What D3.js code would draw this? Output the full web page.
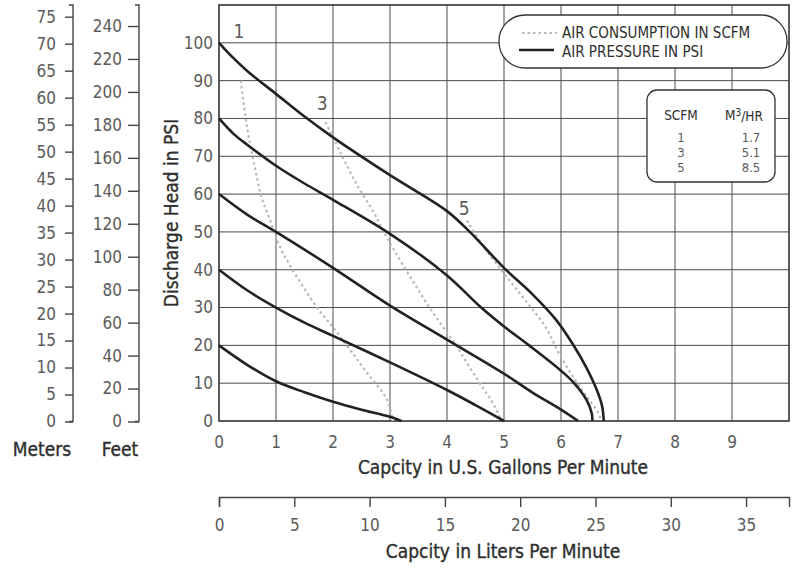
<!DOCTYPE html>
<html><head><meta charset="utf-8">
<script src="https://cdn.jsdelivr.net/npm/d3@7"></script>
<style>
body{margin:0;background:#fff;}
svg{display:block;font-family:'Liberation Sans Narrow','DejaVu Sans Condensed','Arial Narrow',sans-serif;font-stretch:condensed;}
</style></head><body><svg id="c" width="797" height="569"></svg>
<script>
// ---- data ----
const gpmTicks = [0,1,2,3,4,5,6,7,8,9];
const psiTicks = [0,10,20,30,40,50,60,70,80,90,100];
const meterTicks = [0,5,10,15,20,25,30,35,40,45,50,55,60,65,70,75];
const feetTicks = [0,20,40,60,80,100,120,140,160,180,200,220,240];
const literTicks = [0,5,10,15,20,25,30,35];
const GAL_TO_L = 3.785;

// air pressure curves (gpm, psi)
const psi20 = [[0,20],[0.5,14.8],[1,10.5],[1.5,7.6],[2,5.1],[2.5,3],[3,1.1],[3.2,0]];
const psi40 = [[0,40],[0.5,34.5],[1,30],[1.5,26],[2,22.5],[3,15.5],[4,8.2],[4.5,4.2],[5,0]];
const psi60 = [[0,60],[0.5,54.5],[1,50],[2,40.5],[3,30.5],[4,21.5],[5,12.5],[5.5,7.5],[6,3],[6.3,0]];
const psi80 = [[0,80],[0.25,76],[0.5,73],[1,67.5],[1.5,62.8],[2,58.5],[3,49.5],[4,38.5],[4.6,30],[5,25],[5.44,20],[6,13.3],[6.23,10],[6.45,5.5],[6.54,2],[6.55,0]];
const psi100 = [[0,100],[0.25,96],[0.5,92.5],[1,86.5],[1.5,80.5],[2,75],[3,65],[4,55.5],[4.4,50],[5,40.5],[5.5,33.5],[5.9,27],[6.2,20.5],[6.45,14],[6.62,8.5],[6.72,4],[6.75,0]];

// air consumption curves (gpm, psi)
const scfm1 = [[0.38,90],[0.5,77],[0.63,67],[0.75,59],[0.9,53],[1.04,47],[1.25,41],[1.72,30],[2.01,24.6],[2.3,18.8],[2.6,12.7],[2.95,5.6],[3.05,0]];
const scfm3 = [[1.87,79],[2.13,71],[2.4,63],[2.72,55],[2.84,51.4],[3.07,45.2],[3.4,37],[3.72,29.4],[4.13,20.6],[4.54,10.8],[4.84,3.8],[4.95,0]];
const scfm5 = [[4.35,53],[4.6,47],[5,39],[5.37,32],[5.72,25],[5.96,18],[6.2,12],[6.45,6.5],[6.66,2],[6.7,0]];

const curveLabelText = ["1","3","5"];
const curveLabelGpm = [0.35,1.81,4.3];
const curveLabelPsi = [103,84,56.3];

const tableScfm = ["1","3","5"];
const tableM3hr = ["1.7","5.1","8.5"];

// ---- drawing ----
const svg = d3.select("#c");
const x = d3.scaleLinear().domain([0,10]).range([219,789]);
const y = d3.scaleLinear().domain([0,110]).range([421,5]);
const xL = d3.scaleLinear().domain([0,10*GAL_TO_L]).range([219,789]);
const yM = d3.scaleLinear().domain([0,75]).range([421.5,16.7]);
const yF = d3.scaleLinear().domain([0,240]).range([421.5,26]);

const labelColor = "#5a5a5a";
const titleColor = "#2e2e2e";
const tickFs = 17;
const titleFs = 19;

// gridlines
const grid = svg.append("g").attr("stroke","#4a4a4a").attr("stroke-width",1);
grid.selectAll("line.v").data(gpmTicks.filter(d=>d>0)).join("line")
  .attr("x1",d=>x(d)).attr("x2",d=>x(d)).attr("y1",y(0)).attr("y2",y(110));
grid.selectAll("line.h").data(psiTicks.filter(d=>d>0)).join("line")
  .attr("x1",x(0)).attr("x2",x(10)).attr("y1",d=>y(d)).attr("y2",d=>y(d));

// frame
svg.append("rect").attr("x",x(0)).attr("y",y(110)).attr("width",x(10)-x(0)).attr("height",y(0)-y(110))
  .attr("fill","none").attr("stroke","#333").attr("stroke-width",1.6);

// gpm axis labels
svg.append("g").selectAll("text").data(gpmTicks).join("text")
  .attr("x",d=>x(d)).attr("y",448).attr("text-anchor","middle")
  .attr("font-size",tickFs).attr("fill",labelColor).text(d=>d);
// psi labels
svg.append("g").selectAll("text").data(psiTicks).join("text")
  .attr("x",213).attr("y",d=>y(d)).attr("dy","0.35em").attr("text-anchor","end")
  .attr("font-size",tickFs).attr("fill",labelColor).text(d=>d);

// curves
const line = d3.line().x(d=>x(d[0])).y(d=>y(d[1])).curve(d3.curveCatmullRom.alpha(0.5));
[scfm1,scfm3,scfm5].forEach(c=>{
  svg.append("path").attr("d",line(c)).attr("fill","none")
    .attr("stroke","#b8b8b8").attr("stroke-width",2.2).attr("stroke-dasharray","2.5,3");
});
[psi20,psi40,psi60,psi80,psi100].forEach(c=>{
  svg.append("path").attr("d",line(c)).attr("fill","none")
    .attr("stroke","#222").attr("stroke-width",2.6).attr("stroke-linejoin","round");
});

// curve labels
svg.append("g").selectAll("text").data(curveLabelText).join("text")
  .attr("x",(d,i)=>x(curveLabelGpm[i])).attr("y",(d,i)=>y(curveLabelPsi[i])).attr("dy","0.35em")
  .attr("text-anchor","middle").attr("font-size",titleFs).attr("fill",labelColor).text(d=>d);

// meters axis
const gM = svg.append("g").attr("transform","translate(73,0)");
gM.call(d3.axisLeft(yM).tickValues(meterTicks).tickSize(8).tickPadding(9).tickSizeOuter(0));
gM.select(".domain").remove();
gM.append("path").attr("d",`M-4,5H0V${yM(0)}H-4`).attr("fill","none").attr("stroke","#444").attr("stroke-width",1.4);
gM.selectAll(".tick line").attr("stroke","#444").attr("stroke-width",1.4);
gM.selectAll(".tick text").attr("font-size",tickFs).attr("fill",labelColor);
gM.attr("font-family",null).attr("font-size",null);

// feet axis
const gF = svg.append("g").attr("transform","translate(139,0)");
gF.call(d3.axisLeft(yF).tickValues(feetTicks).tickSize(11).tickPadding(6).tickSizeOuter(0));
gF.select(".domain").remove();
gF.append("path").attr("d",`M-4,5H0V${yF(0)}H-4`).attr("fill","none").attr("stroke","#444").attr("stroke-width",1.4);
gF.selectAll(".tick line").attr("stroke","#444").attr("stroke-width",1.4);
gF.selectAll(".tick text").attr("font-size",tickFs).attr("fill",labelColor);
gF.attr("font-family",null).attr("font-size",null);

// liters axis
const gL = svg.append("g").attr("transform","translate(0,497)");
gL.call(d3.axisBottom(xL).tickValues(literTicks).tickSize(10).tickPadding(12).tickSizeOuter(10));
gL.select(".domain").attr("stroke","#444").attr("stroke-width",1.4);
gL.selectAll(".tick line").attr("stroke","#444").attr("stroke-width",1.4);
gL.selectAll(".tick text").attr("font-size",tickFs).attr("fill",labelColor);
gL.attr("font-family",null).attr("font-size",null);

// titles
const title = (t,xx,yy,rot)=>svg.append("text").attr("x",xx).attr("y",yy)
  .attr("text-anchor","middle").attr("font-size",titleFs).attr("fill",titleColor)
  .attr("stroke",titleColor).attr("stroke-width",0.35)
  .attr("transform",rot?`rotate(-90,${xx},${yy})`:null).text(t);
title("Capcity in U.S. Gallons Per Minute",503,474);
title("Capcity in Liters Per Minute",503,558);
title("Discharge Head in PSI",178,213,true);
title("Meters",42,456);
title("Feet",120,456);

// legend pill
const lg = svg.append("g");
lg.append("rect").attr("x",499).attr("y",15).attr("width",288).attr("height",53).attr("rx",26).attr("ry",26)
  .attr("fill","#fff").attr("stroke","#333").attr("stroke-width",1.3);
lg.append("line").attr("x1",522).attr("x2",557).attr("y1",33).attr("y2",33)
  .attr("stroke","#b8b8b8").attr("stroke-width",2).attr("stroke-dasharray","2.5,3");
lg.append("line").attr("x1",519).attr("x2",554).attr("y1",50).attr("y2",50)
  .attr("stroke","#222").attr("stroke-width",2.4);
lg.append("text").attr("x",562).attr("y",33).attr("dy","0.35em").attr("font-size",15).attr("fill",titleColor).text("AIR CONSUMPTION IN SCFM");
lg.append("text").attr("x",562).attr("y",52).attr("dy","0.35em").attr("font-size",15).attr("fill",titleColor).text("AIR PRESSURE IN PSI");

// table
const tb = svg.append("g");
tb.append("rect").attr("x",647).attr("y",90).attr("width",128).attr("height",92).attr("rx",10).attr("ry",10)
  .attr("fill","#fff").attr("stroke","#333").attr("stroke-width",1.3);
tb.append("text").attr("x",681).attr("y",115).attr("dy","0.35em").attr("text-anchor","middle")
  .attr("font-size",13.5).attr("fill",titleColor).text("SCFM");
const hdr = tb.append("text").attr("x",744).attr("y",115).attr("dy","0.35em").attr("text-anchor","middle")
  .attr("font-size",13.5).attr("fill",titleColor);
hdr.append("tspan").text("M");
hdr.append("tspan").attr("dy","-0.4em").attr("font-size",10).text("3");
hdr.append("tspan").attr("dy","0.4em").text("/HR");
tb.selectAll("text.s").data(tableScfm).join("text").attr("class","s")
  .attr("x",681).attr("y",(d,i)=>137+i*15).attr("dy","0.35em").attr("text-anchor","middle")
  .attr("font-size",13).attr("fill",labelColor).text(d=>d);
tb.selectAll("text.m").data(tableM3hr).join("text").attr("class","m")
  .attr("x",751).attr("y",(d,i)=>137+i*15).attr("dy","0.35em").attr("text-anchor","middle")
  .attr("font-size",13).attr("fill",labelColor).text(d=>d);
</script></body></html>
